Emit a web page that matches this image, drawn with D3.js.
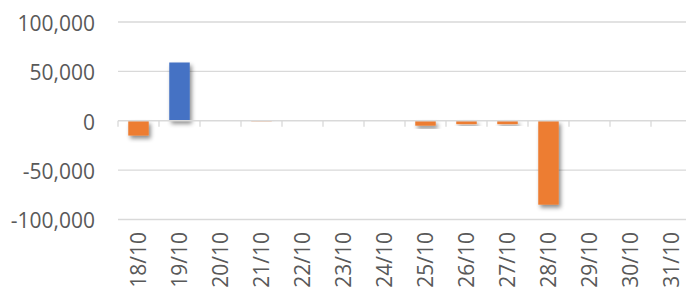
<!DOCTYPE html>
<html><head><meta charset="utf-8">
<script src="https://cdn.jsdelivr.net/npm/d3@7"></script>
<style>body{margin:0;background:#fff}svg{display:block}</style>
</head><body><svg id="c" width="686" height="291"></svg>
<script>
const categories = ["18/10","19/10","20/10","21/10","22/10","23/10","24/10","25/10","26/10","27/10","28/10","29/10","30/10","31/10"];
const values = [-15000, 59000, 0, -600, 0, 0, 400, -5000, -3500, -3500, -85000, 0, 0, 0];
const yTicks = [-100000, -50000, 0, 50000, 100000];

(function(){
const svg = d3.select("#c");
const pL = 118, pR = 692, pT = 22, pB = 219.5;
const x = d3.scaleBand().domain(categories).range([pL, pR]).paddingInner(0.5).paddingOuter(0.25);
const y = d3.scaleLinear().domain([-100000, 100000]).range([pB, pT]);
const fmt = v => d3.format(",")(v).replace("\u2212", "-");
const font = "'Open Sans', sans-serif";

const defs = svg.append("defs");
const f = defs.append("filter").attr("id","sh").attr("x","-50%").attr("y","-50%").attr("width","200%").attr("height","200%");
f.append("feDropShadow").attr("dx",2).attr("dy",3).attr("stdDeviation",2.2).attr("flood-color","#000").attr("flood-opacity",0.45);

svg.append("g").selectAll("line").data(yTicks.filter(d=>d!==0)).join("line")
  .attr("x1", pL).attr("x2", 686).attr("y1", d=>y(d)).attr("y2", d=>y(d))
  .attr("stroke","#d9d9d9").attr("stroke-width",1.3);

svg.append("g").selectAll("text").data(yTicks).join("text")
  .attr("x", 95).attr("y", d=>y(d)).attr("dy","0.42em").attr("text-anchor","end")
  .attr("font-family",font).attr("font-size",21).attr("fill","#595959")
  .text(d=>fmt(d));

svg.append("g").selectAll("rect").data(values.map((v,i)=>({c:categories[i],v}))).join("rect")
  .attr("x", d=>x(d.c)).attr("width", x.bandwidth())
  .attr("y", d=>Math.min(y(d.v), y(0))).attr("height", d=>Math.abs(y(d.v)-y(0)))
  .attr("fill", d=>d.v>=0 ? "#4472c4" : "#ed7d31")
  .attr("filter","url(#sh)");

const step = x.step();
const ax = svg.append("g");
ax.append("line").attr("x1", pL).attr("x2", 686).attr("y1", y(0)).attr("y2", y(0))
  .attr("stroke","#d9d9d9").attr("stroke-width",1.3);
const tickPos = d3.range(categories.length+1).map(i=>pL + i*step);
ax.selectAll("line.t").data(tickPos).join("line").attr("class","t")
  .attr("x1", d=>d).attr("x2", d=>d).attr("y1", y(0)).attr("y2", y(0)+6)
  .attr("stroke","#d9d9d9").attr("stroke-width",1.3);

svg.append("g").selectAll("text").data(categories).join("text")
  .attr("transform", d=>`translate(${x(d)+x.bandwidth()/2},232) rotate(-90)`)
  .attr("dy","0.36em").attr("text-anchor","end")
  .attr("font-family",font).attr("font-size",21).attr("fill","#595959")
  .text(d=>d);
})();
</script></body></html>
